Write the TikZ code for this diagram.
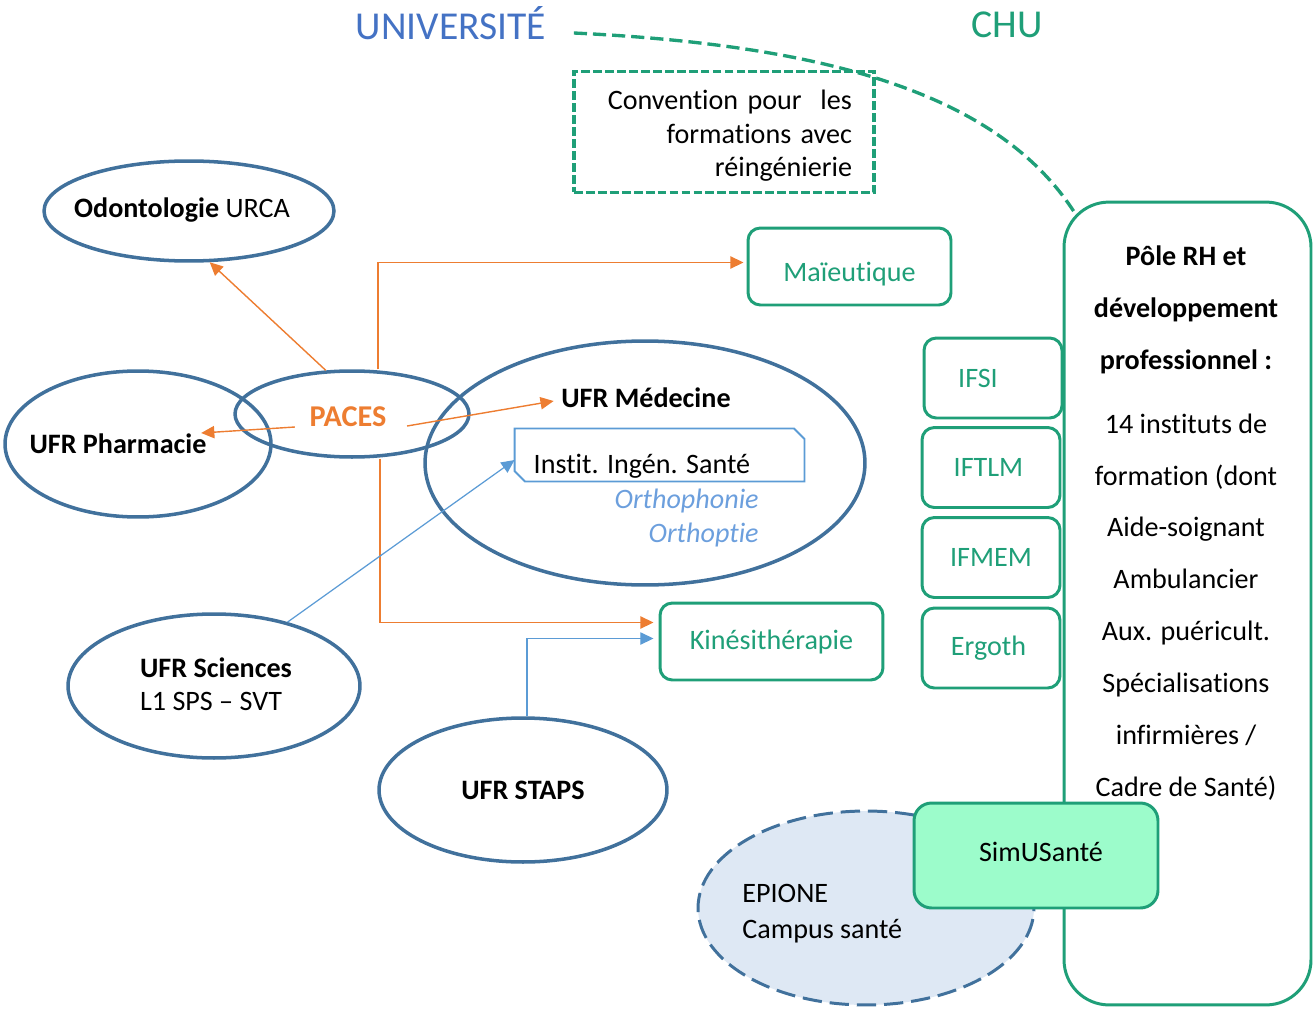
\documentclass[tikz,border=0pt]{standalone}
\usepackage{fontspec}
\setmainfont{Carlito}[Ligatures={TeX,NoCommon}]
\usetikzlibrary{shapes.geometric, shapes.misc, arrows.meta, calc}

\definecolor{ellblue}{HTML}{41719C}
\definecolor{fleche}{HTML}{ED7D31}
\definecolor{bleuclair}{HTML}{5B9BD5}
\definecolor{vertchu}{HTML}{1F9F78}
\definecolor{bleuuniv}{HTML}{4472C4}
\definecolor{vertsim}{HTML}{9CFCCB}
\definecolor{fondepione}{HTML}{DEE8F4}
\definecolor{italbleu}{HTML}{6C9FDD}

\tikzset{
  ufr/.style={ellipse, draw=ellblue, line width=2pt, inner sep=0pt},
  inst/.style={rectangle, rounded corners=7pt, draw=vertchu, line width=1.7pt, text=vertchu},
  lien/.style={fleche, line width=0.8pt, -{Triangle[length=7.5pt,width=7pt]}},
  lienbleu/.style={bleuclair, line width=0.7pt, -{Triangle[length=7.5pt,width=7pt]}},
}

\begin{document}
\begin{tikzpicture}[x=0.02cm, y=-0.02cm]
\fontsize{16}{19}\selectfont
\useasboundingbox (0,0) rectangle (1314,1010);

\node[text=bleuuniv, font=\fontsize{22.5}{26}\selectfont] (univ) at (451,23) {UNIVERSITÉ};
\node[text=vertchu, font=\fontsize{22.5}{26}\selectfont] (chu) at (1007,25) {CHU};

\node[draw=vertchu, line width=2.2pt, dash pattern=on 5pt off 1.8pt, minimum width=6cm, minimum height=2.42cm,
      text width=5.12cm, align=right, inner sep=0pt] (conv) at (724,132)
  {\rule{0pt}{15.7pt}Convention pour\ \ les\\formations avec\\réingénierie};

% universite
\node[ufr, minimum width=5.8cm, minimum height=2cm] (odonto) at (189,211) {};
\node (odontotxt) at (182,210) {\textbf{Odontologie} URCA};
\node[ufr, minimum width=5.32cm, minimum height=2.92cm] (pharma) at (138,444) {};
\node[font=\bfseries] (pharmatxt) at (118,444) {UFR Pharmacie};
\node[ufr, minimum width=8.8cm, minimum height=4.88cm] (medecine) at (645,463) {};
\node[font=\bfseries] (medtxt) at (646,398) {UFR Médecine};
\node[ufr, minimum width=4.68cm, minimum height=1.72cm] (paces) at (352,414) {};
\node[text=fleche, font=\fontsize{17.2}{20}\selectfont\bfseries] (pacestxt) at (348,417) {PACES};

\node[chamfered rectangle, chamfered rectangle corners={north east, south west}, chamfered rectangle sep=3pt,
      draw=bleuclair, line width=1.1pt, minimum width=5.8cm, minimum height=1.06cm] (instit) at (659.5,455) {};
\node (instittxt) at (642,466) {Instit. Ingén. Santé};
\node[anchor=east, align=right, inner sep=0pt, text=italbleu, font=\itshape] (ortho) at (759,518) {Orthophonie\\Orthoptie};

\node[ufr, minimum width=5.84cm, minimum height=2.88cm] (sciences) at (214,686) {};
\node[align=left] (sciencestxt) at (216,684) {\textbf{UFR Sciences}\\L1 SPS – SVT};
\node[ufr, minimum width=5.76cm, minimum height=2.88cm, font=\bfseries] (staps) at (523,790) {UFR STAPS};

\node[inst, minimum width=4.06cm, minimum height=1.54cm] (maieut) at (849.5,266.5) {\raisebox{-0.15cm}[\height][\depth]{Maïeutique}};
\node[inst, minimum width=4.46cm, minimum height=1.54cm] (kine) at (771.5,641.5) {Kinésithérapie};

% chu
\node[inst, rounded corners=0.9cm, minimum width=4.94cm, minimum height=16.06cm] (pole) at (1187.5,603.5) {};
\node[align=center, font=\fontsize{16}{29.5}\selectfont] (poletxt) at (1186,523)
  {\textbf{Pôle RH et}\\\textbf{développement}\\\textbf{professionnel :}\\[6.8pt]
   14 instituts de\\formation (dont\\Aide-soignant\\Ambulancier\\Aux. puéricult.\\Spécialisations\\infirmières /\\Cadre de Santé)};
\node[inst, minimum width=2.76cm, minimum height=1.6cm] (ifsi) at (993,378) {\hspace*{-0.6cm}IFSI};
\node[inst, minimum width=2.76cm, minimum height=1.6cm] (iftlm) at (991,467.5) {\hspace*{-0.1cm}IFTLM};
\node[inst, minimum width=2.76cm, minimum height=1.6cm] (ifmem) at (991,557.5) {IFMEM};
\node[inst, minimum width=2.76cm, minimum height=1.6cm] (ergo) at (991,648) {\hspace*{-0.1cm}Ergoth};

\node[ellipse, draw=ellblue, fill=fondepione, line width=1.7pt, dash pattern=on 11pt off 4.5pt,
      minimum width=6.72cm, minimum height=3.88cm] (epione) at (866,908) {};
\node[anchor=west, align=left, inner sep=0pt, font=\fontsize{16}{20.5}\selectfont] (epionetxt) at (742,914) {EPIONE\\Campus santé};
\node[inst, fill=vertsim, text=black, rounded corners=10pt, minimum width=4.88cm, minimum height=2.1cm] (simu) at (1036,855.5)
  {\raisebox{0.07cm}[\height][\depth]{\hspace*{0.2cm}SimUSanté}};

% liens
\draw[vertchu, line width=1.9pt, dash pattern=on 7.5pt off 3.4pt]
  ($(univ.east)+(18,10)$) .. controls +(250,12) and +(-77,-120) .. ($(pole.north west)+(12,12)$);

\draw[lien] (paces.121) -- (odonto.-68);
\draw[lien] ($(pacestxt.west)+(-5,10)$) -- ($(pharmatxt.east)+(-15,-11)$);
\draw[lien] ($(pacestxt.east)+(11,9)$) -- ($(medtxt.west)+(2,3)$);
\draw[lien] ($(paces.north)+(26,0)$) |- ($(maieut.west)+(-3,-4)$);
\draw[lien] ($(paces.south)+(28,0)$) |- ($(kine.west)+(-5,-19)$);
\draw[lienbleu] (sciences.41) -- ($(instit.west)+(1,5)$);
\draw[lienbleu] ($(staps.north)+(4,0)$) |- ($(kine.west)+(-5,-3)$);

\end{tikzpicture}
\end{document}
